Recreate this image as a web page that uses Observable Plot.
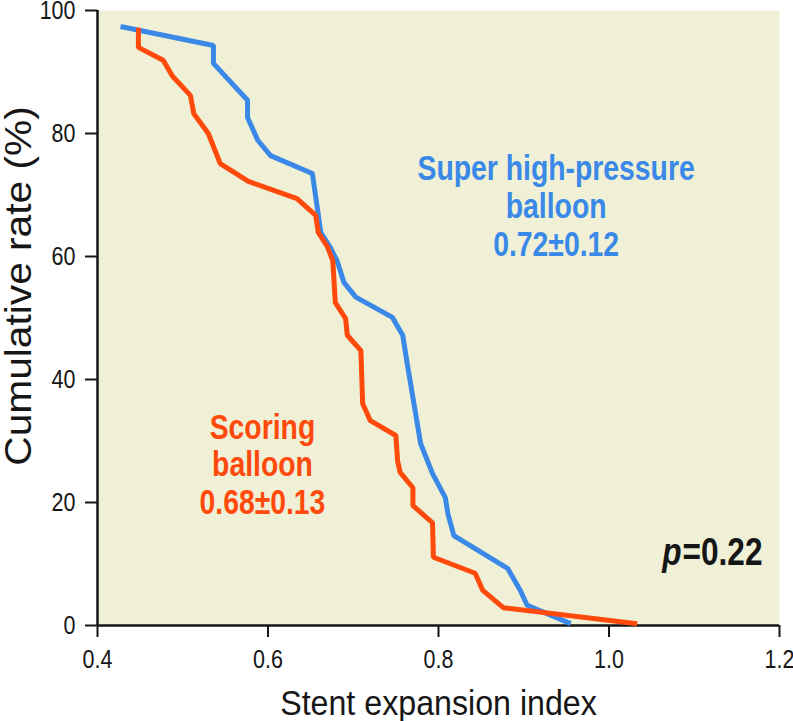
<!DOCTYPE html>
<html>
<head>
<meta charset="utf-8">
<script src="https://cdn.jsdelivr.net/npm/d3@7"></script>
<script src="https://cdn.jsdelivr.net/npm/@observablehq/plot@0.6"></script>
<style>
  html, body { margin: 0; padding: 0; background: #ffffff; }
  #chart svg { display: block; }
</style>
</head>
<body>
<div id="chart"></div>
<script>
// Super high-pressure balloon: stent expansion index vs cumulative rate (%)
const superIndex = [0.427, 0.536, 0.536, 0.576, 0.576, 0.588, 0.603, 0.652, 0.662, 0.673, 0.681, 0.689, 0.703, 0.746, 0.758, 0.764, 0.779, 0.793, 0.808, 0.811, 0.818, 0.881, 0.896, 0.904, 0.955];
const superRate  = [97.4, 94.3, 91.4, 85.4, 82.6, 78.9, 76.4, 73.5, 63.9, 61.5, 59.3, 55.8, 53.4, 50.1, 47.2, 42.0, 29.6, 24.7, 20.8, 18.2, 14.6, 9.3, 5.7, 3.3, 0.3];

// Scoring balloon
const scoringIndex = [0.448, 0.448, 0.477, 0.488, 0.509, 0.513, 0.530, 0.538, 0.544, 0.577, 0.634, 0.656, 0.659, 0.670, 0.676, 0.679, 0.691, 0.693, 0.709, 0.711, 0.720, 0.750, 0.752, 0.755, 0.770, 0.770, 0.793, 0.794, 0.843, 0.852, 0.876, 1.033];
const scoringRate  = [97.2, 94.0, 91.9, 89.3, 86.2, 83.2, 80.0, 77.2, 75.1, 72.2, 69.4, 66.7, 63.9, 61.5, 59.3, 52.5, 49.9, 47.2, 44.7, 36.1, 33.3, 30.9, 26.8, 24.9, 22.4, 19.5, 16.7, 11.1, 8.5, 5.7, 2.9, 0.3];

const xTicks = [0.4, 0.6, 0.8, 1.0, 1.2];
const yTicks = [0, 20, 40, 60, 80, 100];
const xTickLabels = ["0.4", "0.6", "0.8", "1.0", "1.2"];
const yTickLabels = ["0", "20", "40", "60", "80", "100"];
const xLabel = "Stent expansion index";
const yLabel = "Cumulative rate (%)";
const superLabel = "Super high-pressure\nballoon\n0.72±0.12";
const scoringLabel = "Scoring\nballoon\n0.68±0.13";
const pName = "p";
const pValue = "=0.22";

const superData = superIndex.map((x, i) => ({x, y: superRate[i]}));
const scoringData = scoringIndex.map((x, i) => ({x, y: scoringRate[i]}));
const xTickData = xTicks.map((v, i) => ({v, label: xTickLabels[i]}));
const yTickData = yTicks.map((v, i) => ({v, label: yTickLabels[i]}));

const BLUE = "#3a88e8";
const ORANGE = "#ff4a0c";
const INK = "#161616";
const FONT = "'Liberation Sans', Arial, sans-serif";

const chart = Plot.plot({
  width: 793,
  height: 721,
  marginLeft: 97,
  marginRight: 14,
  marginTop: 10,
  marginBottom: 96,
  style: {fontFamily: FONT, fontSize: "25px", color: INK, background: "#ffffff"},
  x: {domain: [0.4, 1.2]},
  y: {domain: [0, 100]},
  marks: [
    Plot.frame({fill: "#eff0d6", stroke: null}),
    Plot.axisX({ticks: xTicks, tickFormat: () => "", tickSize: 12, strokeWidth: 2, label: null}),
    Plot.axisY({ticks: yTicks, tickFormat: () => "", tickSize: 12, strokeWidth: 2, label: null}),
    Plot.text(xTickData, {x: "v", frameAnchor: "bottom", dy: 34, lineAnchor: "middle", textAnchor: "middle", text: "label", fill: INK, fontSize: 25}),
    Plot.text(yTickData, {y: "v", frameAnchor: "left", dx: -22, lineAnchor: "middle", textAnchor: "end", text: "label", fill: INK, fontSize: 25}),
    Plot.ruleX([0.4], {stroke: INK, strokeWidth: 2.5}),
    Plot.ruleY([0], {stroke: INK, strokeWidth: 2.5}),
    Plot.line(superData, {x: "x", y: "y", stroke: BLUE, strokeWidth: 5, strokeLinejoin: "miter", strokeLinecap: "butt"}),
    Plot.line(scoringData, {x: "x", y: "y", stroke: ORANGE, strokeWidth: 5, strokeLinejoin: "miter", strokeLinecap: "butt"}),
    Plot.text([superLabel], {x: 0.938, y: 68.2, text: d => d, fill: BLUE, fontSize: 35, fontWeight: "bold", lineHeight: 1.09, textAnchor: "middle"}),
    Plot.text([scoringLabel], {x: 0.5935, y: 26.2, text: d => d, fill: ORANGE, fontSize: 35, fontWeight: "bold", lineHeight: 1.07, textAnchor: "middle"}),
    Plot.text([pValue], {x: 1.18, y: 11.8, text: d => d, fill: INK, fontSize: 39, fontWeight: "bold", textAnchor: "end"}),
    Plot.text([pName], {x: 1.18, y: 11.8, dx: -81, text: d => d, fill: INK, fontSize: 39, fontWeight: "bold", fontStyle: "italic", textAnchor: "end"}),
    Plot.text([xLabel], {frameAnchor: "bottom", dy: 78, lineAnchor: "middle", textAnchor: "middle", text: d => d, fill: INK, fontSize: 35}),
    Plot.text([yLabel], {frameAnchor: "left", dx: -78, dy: -32, lineAnchor: "middle", textAnchor: "middle", rotate: -90, text: d => d, fill: INK, fontSize: 37})
  ]
});

// Emulate the condensed typeface of the original by scaling glyphs along the text direction
const squeeze = new Map([
  [superLabel.replace(/\n/g, ""), 0.81],
  [scoringLabel.replace(/\n/g, ""), 0.81],
  [pValue, 0.81],
  [pName, 0.81],
  [xLabel, 0.92],
  [yLabel, 1.1],
  ...xTickLabels.map(s => [s, 0.86]),
  ...yTickLabels.map(s => [s, 0.86])
]);
chart.querySelectorAll("text").forEach(t => {
  const s = squeeze.get(t.textContent);
  if (!s) return;
  const xa = t.getAttribute("x");
  if (xa !== null && /^-?[\d.]+$/.test(xa)) t.setAttribute("x", (+xa) / s);
  const tr = t.getAttribute("transform") || "";
  t.setAttribute("transform", `${tr} scale(${s},1)`);
});

document.getElementById("chart").appendChild(chart);
</script>
</body>
</html>
